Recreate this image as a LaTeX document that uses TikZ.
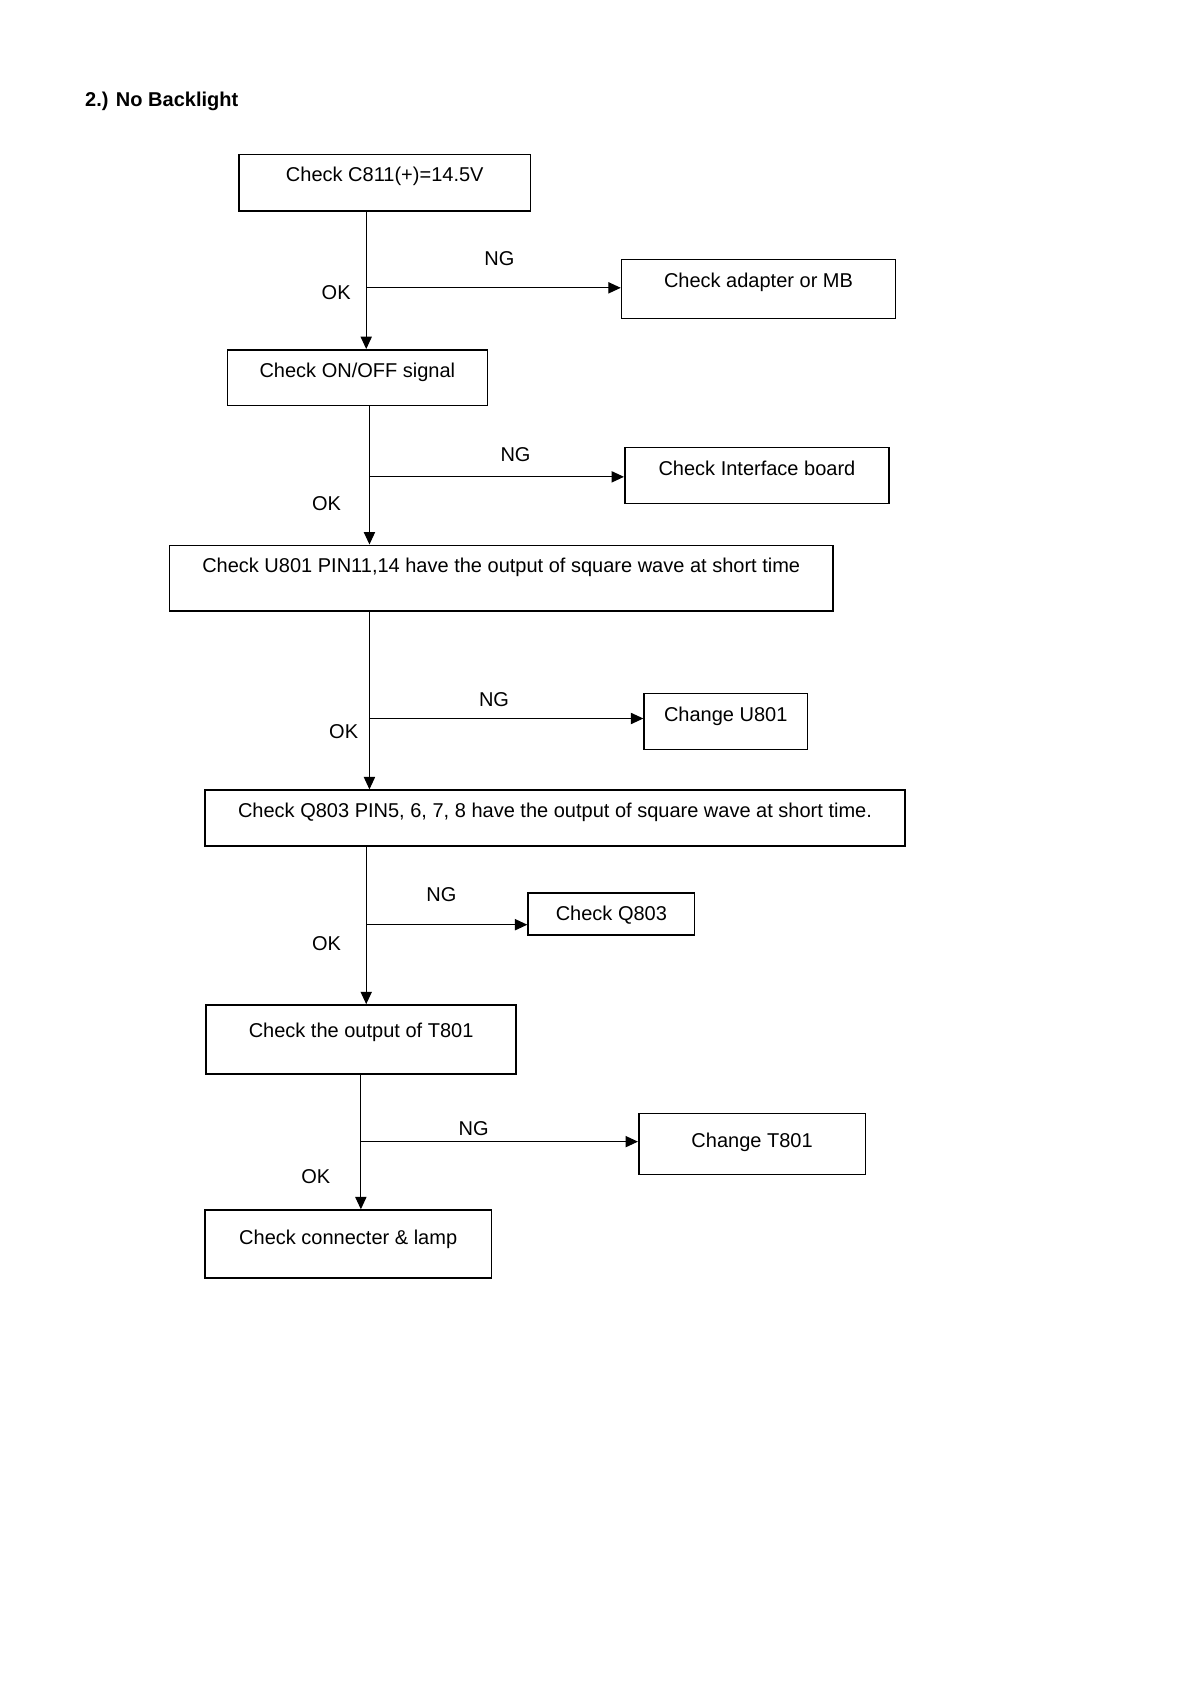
\documentclass[tikz,border=0pt]{standalone}
\usepackage{fontspec}
\setmainfont{Liberation Sans}
\usetikzlibrary{arrows.meta}

\begin{document}
\begin{tikzpicture}[
  x=0.5368pt, y=-0.5368pt,
  font=\fontsize{10pt}{12pt}\selectfont,
  box/.style={draw, line width=0.8pt, anchor=north west, inner sep=0pt, text height=13.8pt},
  lbl/.style={inner sep=0pt},
  arr/.style={draw, line width=0.6pt, -{Triangle[length=6.2pt,width=5.6pt]}}
]
\useasboundingbox (0,0) rectangle (1109,1568);

\node[lbl, anchor=west, font=\fontsize{10pt}{12pt}\selectfont\bfseries] (title) at (79,94) {2.) No Backlight};

% boxes
\node[box, minimum width=145.5pt, text depth=14.65pt] (c811) at (222,143) {Check C811(+)=14.5V};
\node[box, minimum width=136.9pt, text depth=15.7pt] (adapter) at (578,241) {Check adapter or MB};
\node[box, minimum width=129.9pt, text depth=14.1pt] (onoff) at (211,325) {Check ON/OFF signal};
\node[box, minimum width=132.1pt, text depth=14.1pt] (iface) at (581,416) {Check Interface board};
\node[box, minimum width=331.7pt, text depth=18.9pt] (u801) at (157,507) {Check U801 PIN11,14 have the output of square wave at short time};
\node[box, minimum width=81.6pt, text depth=14.1pt] (chgu801) at (599,645) {Change U801};
\node[box, minimum width=350.0pt, text depth=14.1pt] (q803pin) at (190,735) {Check Q803 PIN5, 6, 7, 8 have the output of square wave at short time.};
\node[box, minimum width=83.2pt, text depth=7.1pt] (q803) at (491,831) {Check Q803};
\node[box, minimum width=155.1pt, text height=16.5pt, text depth=17.9pt] (t801) at (191,935) {Check the output of T801};
\node[box, minimum width=113.3pt, text height=17.0pt, text depth=13.6pt] (chgt801) at (594,1036) {Change T801};
\node[box, minimum width=143.3pt, text height=17.0pt, text depth=16.8pt] (lamp) at (190,1126) {Check connecter \& lamp};

% branch points
\coordinate (b1) at (341,268);
\coordinate (b2) at (344,444);
\coordinate (b3) at (344,669);
\coordinate (b4) at (341,861);
\coordinate (b5) at (336,1063);

% OK path
\draw[arr] (b1 |- c811.south) -- (b1 |- onoff.north);
\draw[arr] (b2 |- onoff.south) -- (b2 |- u801.north);
\draw[arr] (b3 |- u801.south) -- (b3 |- q803pin.north);
\draw[arr] (b4 |- q803pin.south) -- (b4 |- t801.north);
\draw[arr] (b5 |- t801.south) -- (b5 |- lamp.north);

% NG path
\draw[arr] (b1) -- (b1 -| adapter.west);
\draw[arr] (b2) -- (b2 -| iface.west);
\draw[arr] (b3) -- (b3 -| chgu801.west);
\draw[arr] (b4) -- (b4 -| q803.west);
\draw[arr] (b5) -- (b5 -| chgt801.west);

% labels
\node[lbl] (ng1) at (465,241) {NG};
\node[lbl] (ok1) at (313,272) {OK};
\node[lbl] (ng2) at (480,423) {NG};
\node[lbl] (ok2) at (304,469) {OK};
\node[lbl] (ng3) at (460,651) {NG};
\node[lbl] (ok3) at (320,681) {OK};
\node[lbl] (ng4) at (411,833) {NG};
\node[lbl] (ok4) at (304,879) {OK};
\node[lbl] (ng5) at (441,1051) {NG};
\node[lbl] (ok5) at (294,1096) {OK};
\end{tikzpicture}
\end{document}
